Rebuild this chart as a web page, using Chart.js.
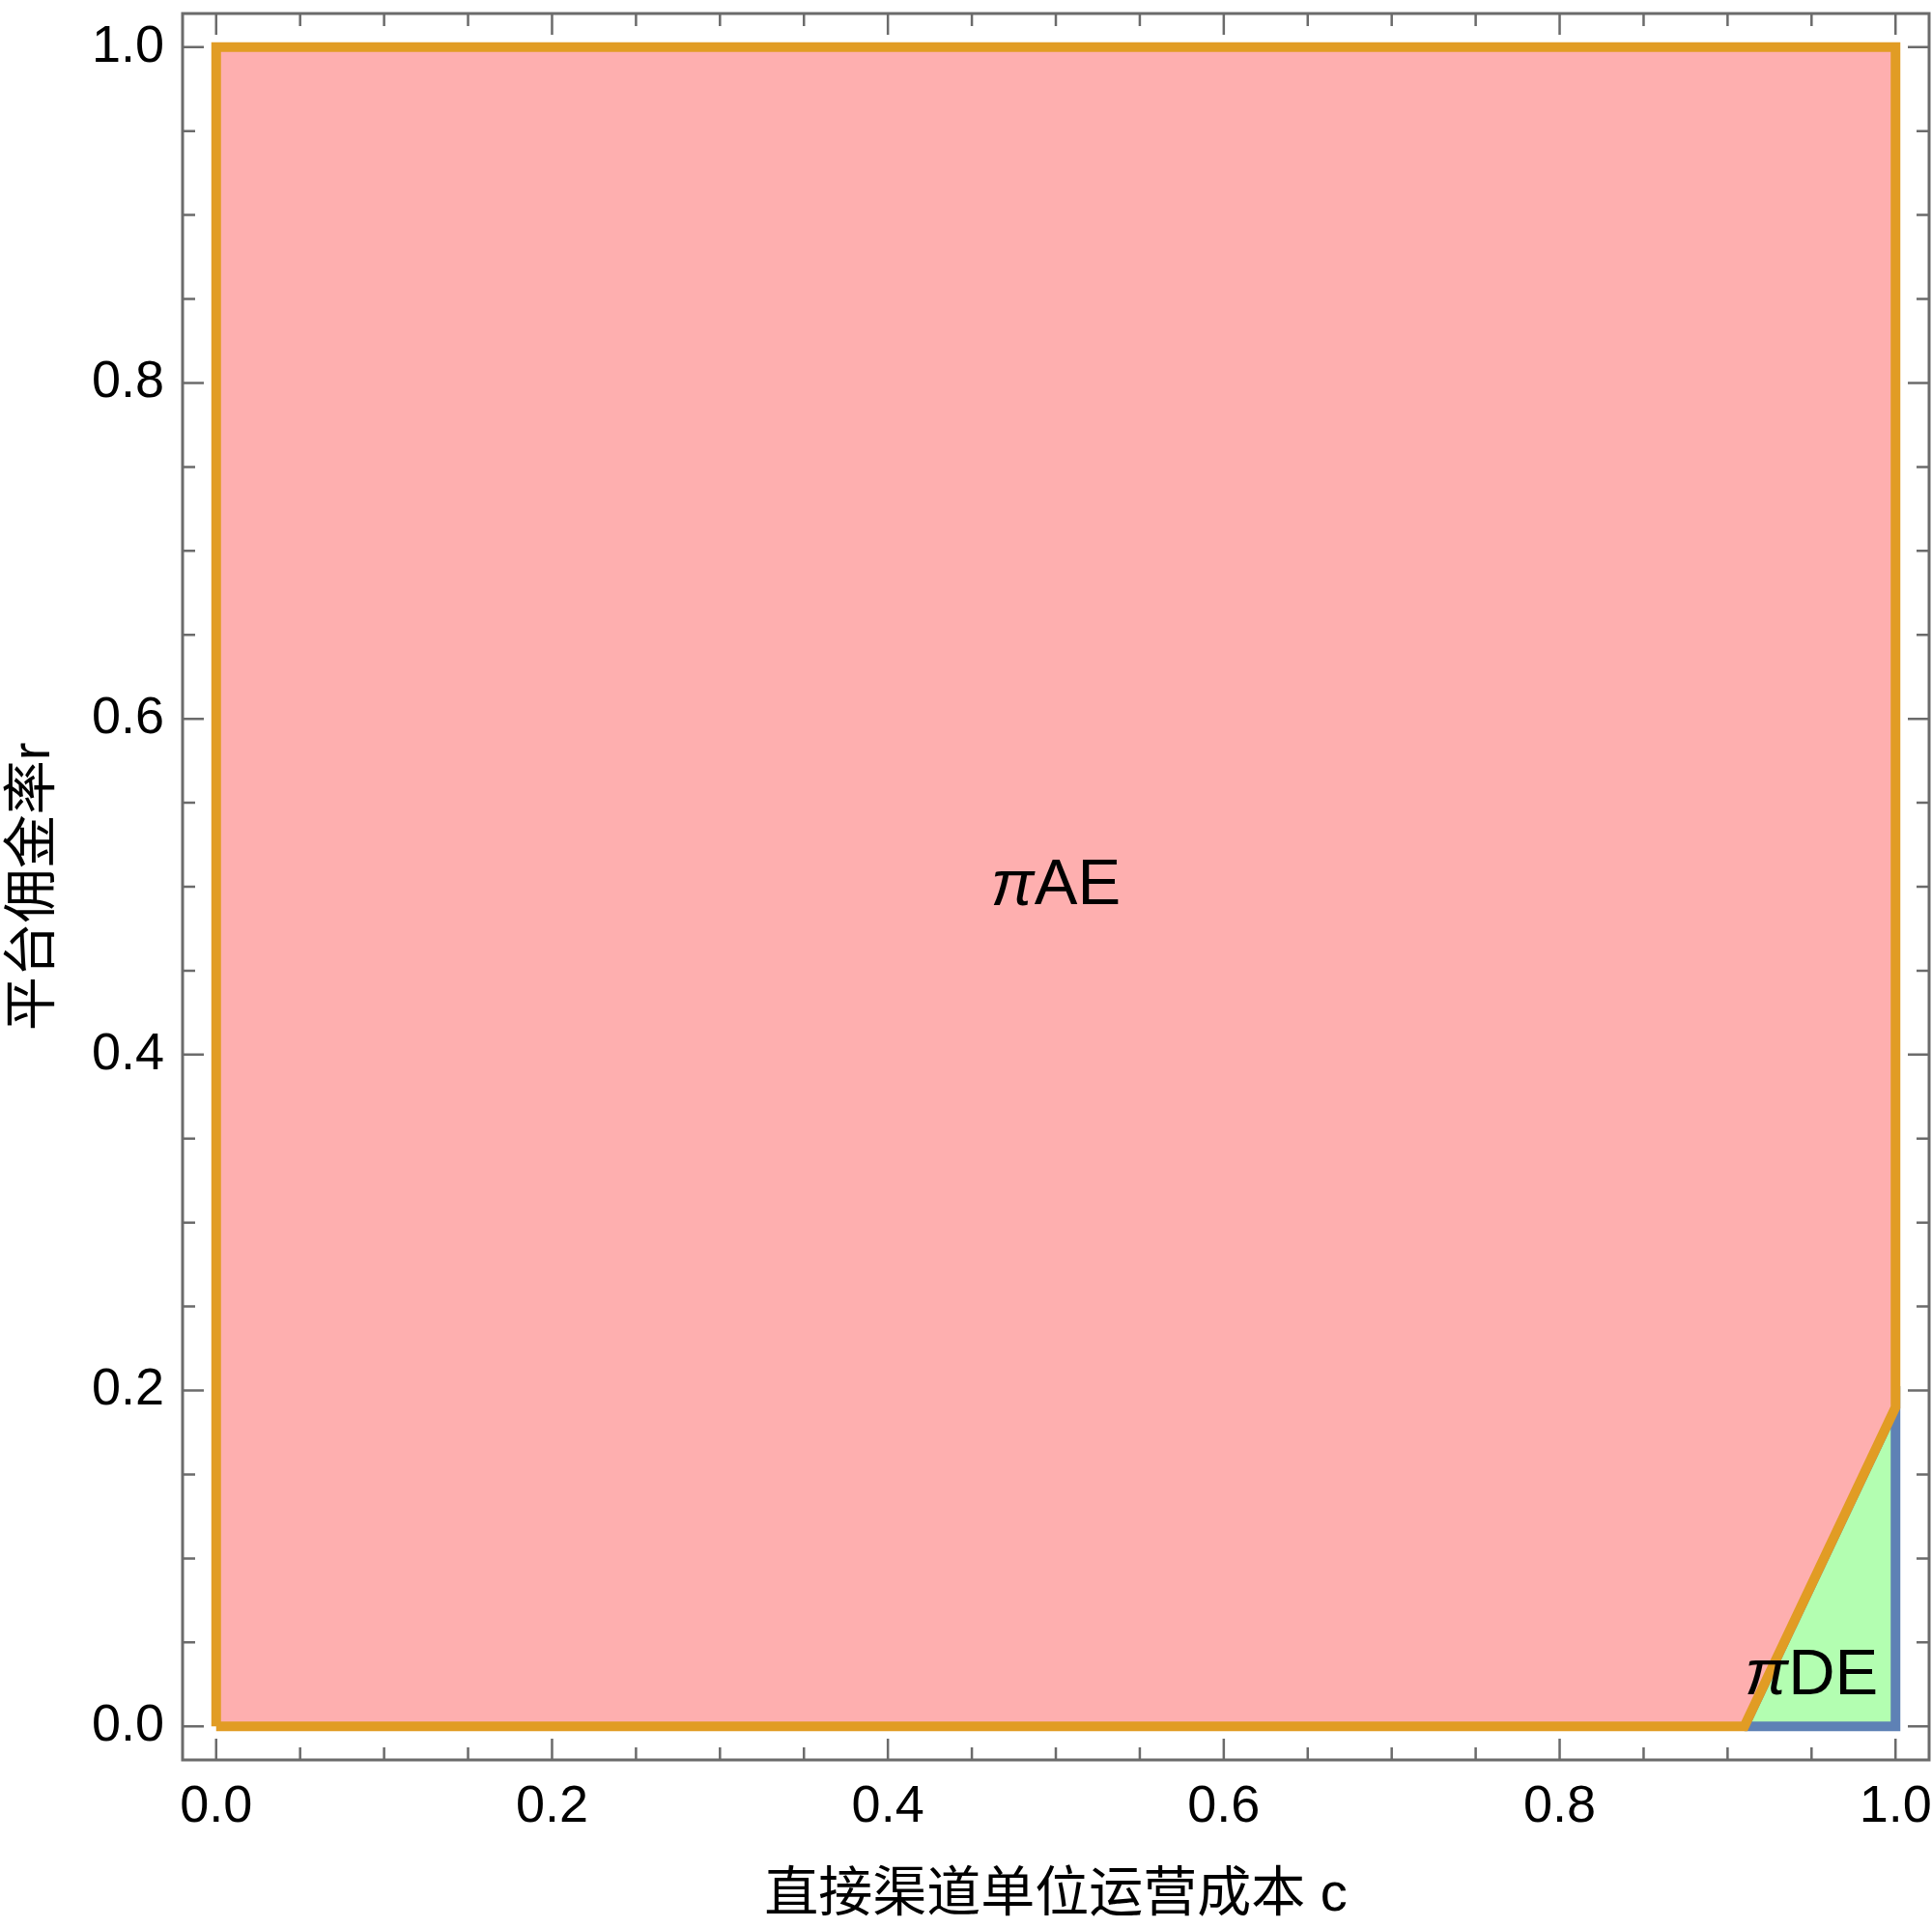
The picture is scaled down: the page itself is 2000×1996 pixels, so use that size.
<!DOCTYPE html>
<html>
<head>
<meta charset="utf-8">
<script src="https://cdn.jsdelivr.net/npm/chart.js@4.4.0/dist/chart.umd.min.js"></script>
<style>
  html, body { margin: 0; padding: 0; background: #fff; }
  canvas { display: block; }
</style>
</head>
<body>
<canvas id="regionChart" width="2000" height="1996"></canvas>
<script>
// region outlines in (c, r)
var aeC = [0, 0.91, 1, 1, 0, 0];
var aeR = [0, 0, 0.19, 1, 1, 0];
var deC = [0.91, 1, 1, 0.91];
var deR = [0, 0, 0.19, 0];

// region labels ("π" + suffix) and where they sit
var regionLabels = ["AE", "DE"];
var labelC = [0.5, 0.95];
var labelR = [0.5, 0.03];

var majorTicks = [0, 0.2, 0.4, 0.6, 0.8, 1.0];
var minorTicks = [0.05, 0.1, 0.15, 0.25, 0.3, 0.35, 0.45, 0.5, 0.55, 0.65, 0.7, 0.75, 0.85, 0.9, 0.95];

var xTitle = "直接渠道单位运营成本 c";
var yTitle = "平台佣金率r";

var frameGray = "#6b6b6b";
var latinFont = "'Liberation Sans', Arial, 'Noto Sans CJK SC', sans-serif";

function toPoints(xs, ys) {
    return xs.map(function (x, i) { return { x: x, y: ys[i] }; });
}

function setMajor(scale) {
    scale.ticks = majorTicks.map(function (v) { return { value: v }; });
}

// keep tick labels from pushing the plot area around
function noOverflow(scale) {
    scale.paddingTop = 0;
    scale.paddingBottom = 0;
    scale.paddingLeft = 0;
    scale.paddingRight = 0;
}

var frameTicks = {
    id: 'frameTicks',
    afterDraw: function (chart) {
        var ctx = chart.ctx;
        var a = chart.chartArea;
        var xs = chart.scales.x;
        var ys = chart.scales.y;
        ctx.save();
        ctx.strokeStyle = frameGray;
        ctx.lineWidth = 2.5;
        ctx.beginPath();
        [[majorTicks, 22], [minorTicks, 13]].forEach(function (set) {
            set[0].forEach(function (v) {
                var px = xs.getPixelForValue(v);
                ctx.moveTo(px, a.bottom); ctx.lineTo(px, a.bottom - set[1]);
                ctx.moveTo(px, a.top); ctx.lineTo(px, a.top + set[1]);
                var py = ys.getPixelForValue(v);
                ctx.moveTo(a.left, py); ctx.lineTo(a.left + set[1], py);
                ctx.moveTo(a.right, py); ctx.lineTo(a.right - set[1], py);
            });
        });
        ctx.stroke();
        ctx.lineWidth = 3;
        ctx.strokeRect(a.left, a.top, a.right - a.left, a.bottom - a.top);

        // region labels
        ctx.fillStyle = '#000';
        ctx.textBaseline = 'middle';
        ctx.textAlign = 'left';
        var piFont = "italic 67px " + latinFont;
        var labFont = "67px " + latinFont;
        regionLabels.forEach(function (lab, i) {
            var cx = xs.getPixelForValue(labelC[i]);
            var cy = ys.getPixelForValue(labelR[i]);
            ctx.font = piFont;
            var wPi = ctx.measureText('π').width;
            ctx.font = labFont;
            var wLab = ctx.measureText(lab).width;
            var x0 = cx - (wPi + wLab) / 2;
            ctx.font = piFont;
            ctx.fillText('π', x0, cy);
            ctx.font = labFont;
            ctx.fillText(lab, x0 + wPi, cy);
        });
        ctx.restore();
    }
};

var ctxR = document.getElementById("regionChart").getContext('2d');

var regionChart = new Chart(ctxR, {
    type: 'scatter',
    data: {
        datasets: [{
            label: 'πAE',
            data: toPoints(aeC, aeR),
            showLine: true,
            fill: 'shape',
            backgroundColor: '#feafaf',
            borderColor: '#e19c24',
            borderWidth: 10,
            borderJoinStyle: 'miter',
            pointRadius: 0,
            tension: 0
        }, {
            label: 'πDE',
            data: toPoints(deC, deR),
            showLine: true,
            fill: 'shape',
            backgroundColor: '#b3feb1',
            borderColor: '#5e81b5',
            borderWidth: 10,
            borderJoinStyle: 'miter',
            pointRadius: 0,
            tension: 0
        }]
    },
    options: {
        responsive: false,
        animation: false,
        layout: { padding: { top: 14, right: 3, left: 0, bottom: 0 } },
        plugins: {
            legend: { display: false },
            tooltip: { enabled: false }
        },
        scales: {
            x: {
                type: 'linear',
                min: -0.02,
                max: 1.02,
                afterBuildTicks: setMajor,
                afterFit: function (scale) { scale.height = 174; noOverflow(scale); },
                grid: { display: false, drawTicks: false },
                border: { display: false },
                ticks: {
                    padding: 17,
                    color: '#000',
                    font: { family: latinFont, size: 54 },
                    maxRotation: 0,
                    callback: function (v) { return v.toFixed(1); }
                },
                title: {
                    display: true,
                    text: xTitle,
                    color: '#000',
                    padding: { top: 0, bottom: 0 },
                    font: { family: latinFont, size: 56 }
                }
            },
            y: {
                type: 'linear',
                min: -0.02,
                max: 1.02,
                afterBuildTicks: setMajor,
                afterFit: function (scale) { scale.width = 189; noOverflow(scale); },
                grid: { display: false, drawTicks: false },
                border: { display: false },
                ticks: {
                    padding: 19,
                    color: '#000',
                    font: { family: latinFont, size: 54 },
                    callback: function (v) { return v.toFixed(1); }
                },
                title: {
                    display: true,
                    text: yTitle,
                    color: '#000',
                    padding: { top: 2, bottom: 0 },
                    font: { family: latinFont, size: 56 }
                }
            }
        }
    },
    plugins: [frameTicks]
});
</script>
</body>
</html>
